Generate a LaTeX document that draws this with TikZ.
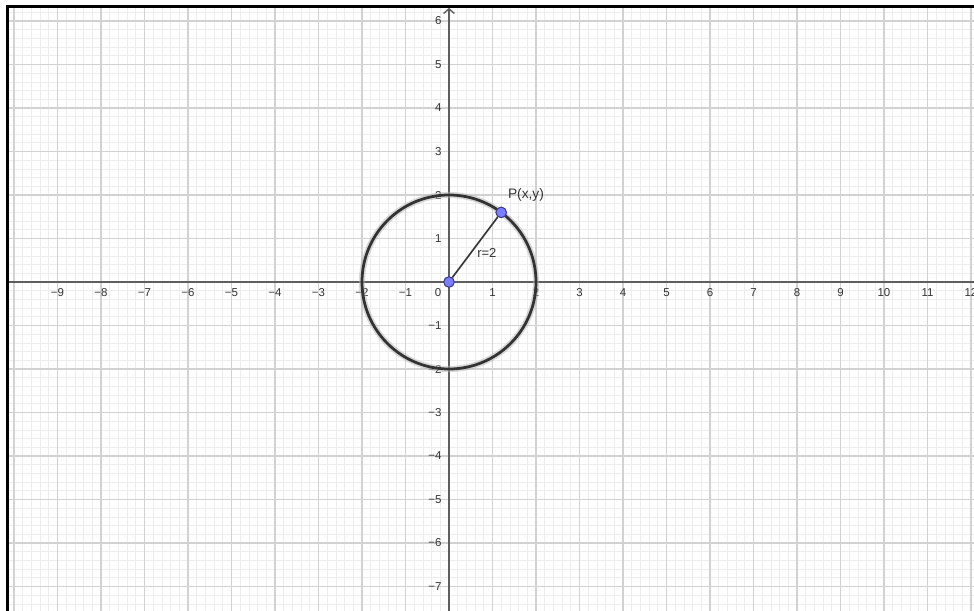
\documentclass[tikz,border=0pt]{standalone}
\usepackage{fontspec}
\setmainfont{Liberation Sans}
\usetikzlibrary{arrows.meta}

\begin{document}
\begin{tikzpicture}[font=\fontsize{7.5}{9}\selectfont]
  % Circle of radius 2 about the origin on a unit grid; P sits on the rim.
  \definecolor{gridmajor}{HTML}{D2D2D2}
  \definecolor{gridminor}{HTML}{EDEDED}
  \definecolor{axisgray}{HTML}{5E5E5E}
  \definecolor{ink}{HTML}{333333}
  \definecolor{ptblue}{HTML}{7D7DFF}
  \definecolor{ptedge}{HTML}{3C3C8E}
  \useasboundingbox (-10.322,-7.563) rectangle (12.069,6.483);
  \fill[white] (-10.322,-7.563) rectangle (12.069,6.483);

  \tikzset{ticklabel/.style={text=ink,inner sep=1pt},
            point/.style={circle,fill=ptblue,draw=ptedge,line width=0.6pt,minimum size=0.24cm,inner sep=0pt}}

  \begin{scope}
    \clip (-10.15,-7.563) rectangle (12.069,6.33);
    \draw[gridminor,line width=0.5pt,step=0.2] (-10.4,-7.8) grid (12.2,6.6);
    \draw[gridmajor,line width=0.7pt,step=1] (-10.4,-7.8) grid (12.2,6.6);
  \end{scope}

  \draw[axisgray,line width=0.9pt] (-10.15,0) -- (12.1,0);
  \draw[axisgray,line width=0.9pt,-{Straight Barb[length=3pt,width=7pt]}] (0,-7.6) -- (0,6.3);
  \draw[black,line width=1.6pt] (-10.15,-7.6) -- (-10.15,6.33) -- (12.1,6.33);

  \foreach \i in {1,...,12}
    \node[ticklabel] (xp\i) at (\i,-0.25) {\i};
  \foreach \i in {1,...,9}
    \node[ticklabel] (xm\i) at (-\i,-0.25) {−\i};
  \foreach \i in {1,...,6}
    \node[ticklabel,anchor=east] (yp\i) at (-0.13,\i) {\i};
  \foreach \i in {1,...,7}
    \node[ticklabel,anchor=east] (ym\i) at (-0.13,-\i) {−\i};
  \node[ticklabel] (zero) at (-0.25,-0.25) {0};

  \draw[black!30,line width=4pt,opacity=.5] (0,0) circle (2);
  \draw[ink,line width=1.8pt] (0,0) circle (2);

  \node[point] (O) at (0,0) {};
  \node[point] (P) at (1.2,1.6) {};
  \draw[ink,line width=1.1pt] (O) -- (P);
  \node[point] at (O) {};
  \node[point] at (P) {};

  \node[text=ink,font=\fontsize{9}{11}\selectfont] (lblP) at (1.77,2.0) {P(x,y)};
  \node[text=ink,font=\fontsize{8.5}{10}\selectfont] (lblr) at (0.87,0.67) {r=2};
\end{tikzpicture}
\end{document}
